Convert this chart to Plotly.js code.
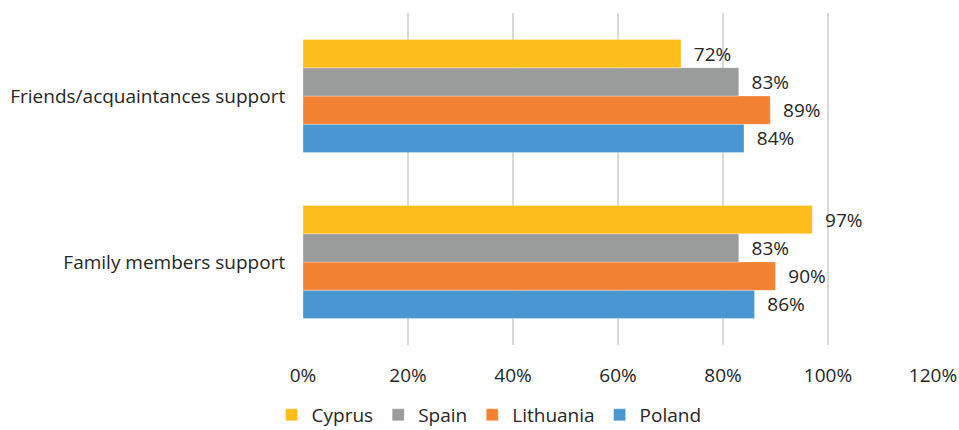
<!DOCTYPE html>
<html>
<head>
<meta charset="utf-8">
<script src="https://cdn.plot.ly/plotly-3.0.1.min.js"></script>
<style>html,body{margin:0;padding:0;background:#fff;}#chart{width:959px;height:430px;}</style>
</head>
<body>
<div id="chart"></div>
<script>
const categories = ['Family members support', 'Friends/acquaintances support'];
const cyprus = [97, 72];
const spain = [83, 83];
const lithuania = [90, 89];
const poland = [86, 84];
const seriesNames = ['Poland', 'Lithuania', 'Spain', 'Cyprus'];
const seriesValues = [poland, lithuania, spain, cyprus];
const seriesColors = ['#4A96D1', '#F28232', '#9A9C9B', '#FDBE1C'];
const xTickVals = [0, 20, 40, 60, 80, 100, 120];
const xTickText = ['0%', '20%', '40%', '60%', '80%', '100%', '120%'];

const FONT = '"Open Sans", "Liberation Sans", sans-serif';
const FS = 19;
const traces = seriesNames.map((name, i) => ({
  type: 'bar',
  orientation: 'h',
  name: name,
  y: categories,
  x: seriesValues[i],
  text: seriesValues[i].map(v => '\u00a0\u00a0' + v + '%'),
  textposition: 'outside',
  cliponaxis: false,
  textfont: {family: FONT, size: FS, color: '#262626'},
  marker: {color: seriesColors[i], line: {color: 'rgba(255,255,255,0.6)', width: 0.5}},
  hoverinfo: 'none'
}));

const layout = {
  width: 959, height: 430,
  margin: {l: 303, r: 26, t: 13, b: 85, autoexpand: false},
  paper_bgcolor: '#fff', plot_bgcolor: '#fff',
  barmode: 'group',
  bargap: 0.32,
  bargroupgap: 0,
  font: {family: FONT, size: FS, color: '#262626'},
  xaxis: {
    range: [0, 120],
    tickvals: xTickVals,
    ticktext: xTickText,
    showgrid: true,
    gridcolor: '#d9d9d9',
    gridwidth: 2,
    zeroline: false,
    showline: false,
    ticks: 'outside',
    ticklen: 13,
    tickcolor: 'rgba(0,0,0,0)',
    tickfont: {family: FONT, size: FS, color: '#262626'},
    automargin: false,
    fixedrange: true
  },
  yaxis: {
    type: 'category',
    categoryorder: 'array',
    categoryarray: categories,
    showgrid: false,
    zeroline: false,
    showline: false,
    ticks: 'outside',
    ticklen: 13,
    tickcolor: 'rgba(0,0,0,0)',
    tickfont: {family: FONT, size: FS, color: '#262626'},
    automargin: false,
    fixedrange: true
  },
  showlegend: true,
  legend: {
    orientation: 'h',
    traceorder: 'reversed',
    xref: 'container', yref: 'container',
    x: 0.51, xanchor: 'center',
    y: 0.035, yanchor: 'middle',
    font: {family: FONT, size: FS, color: '#262626'},
    itemwidth: 30,
    itemclick: false, itemdoubleclick: false
  }
};

Plotly.newPlot('chart', traces, layout, {displayModeBar: false, staticPlot: true});
</script>
</body>
</html>
